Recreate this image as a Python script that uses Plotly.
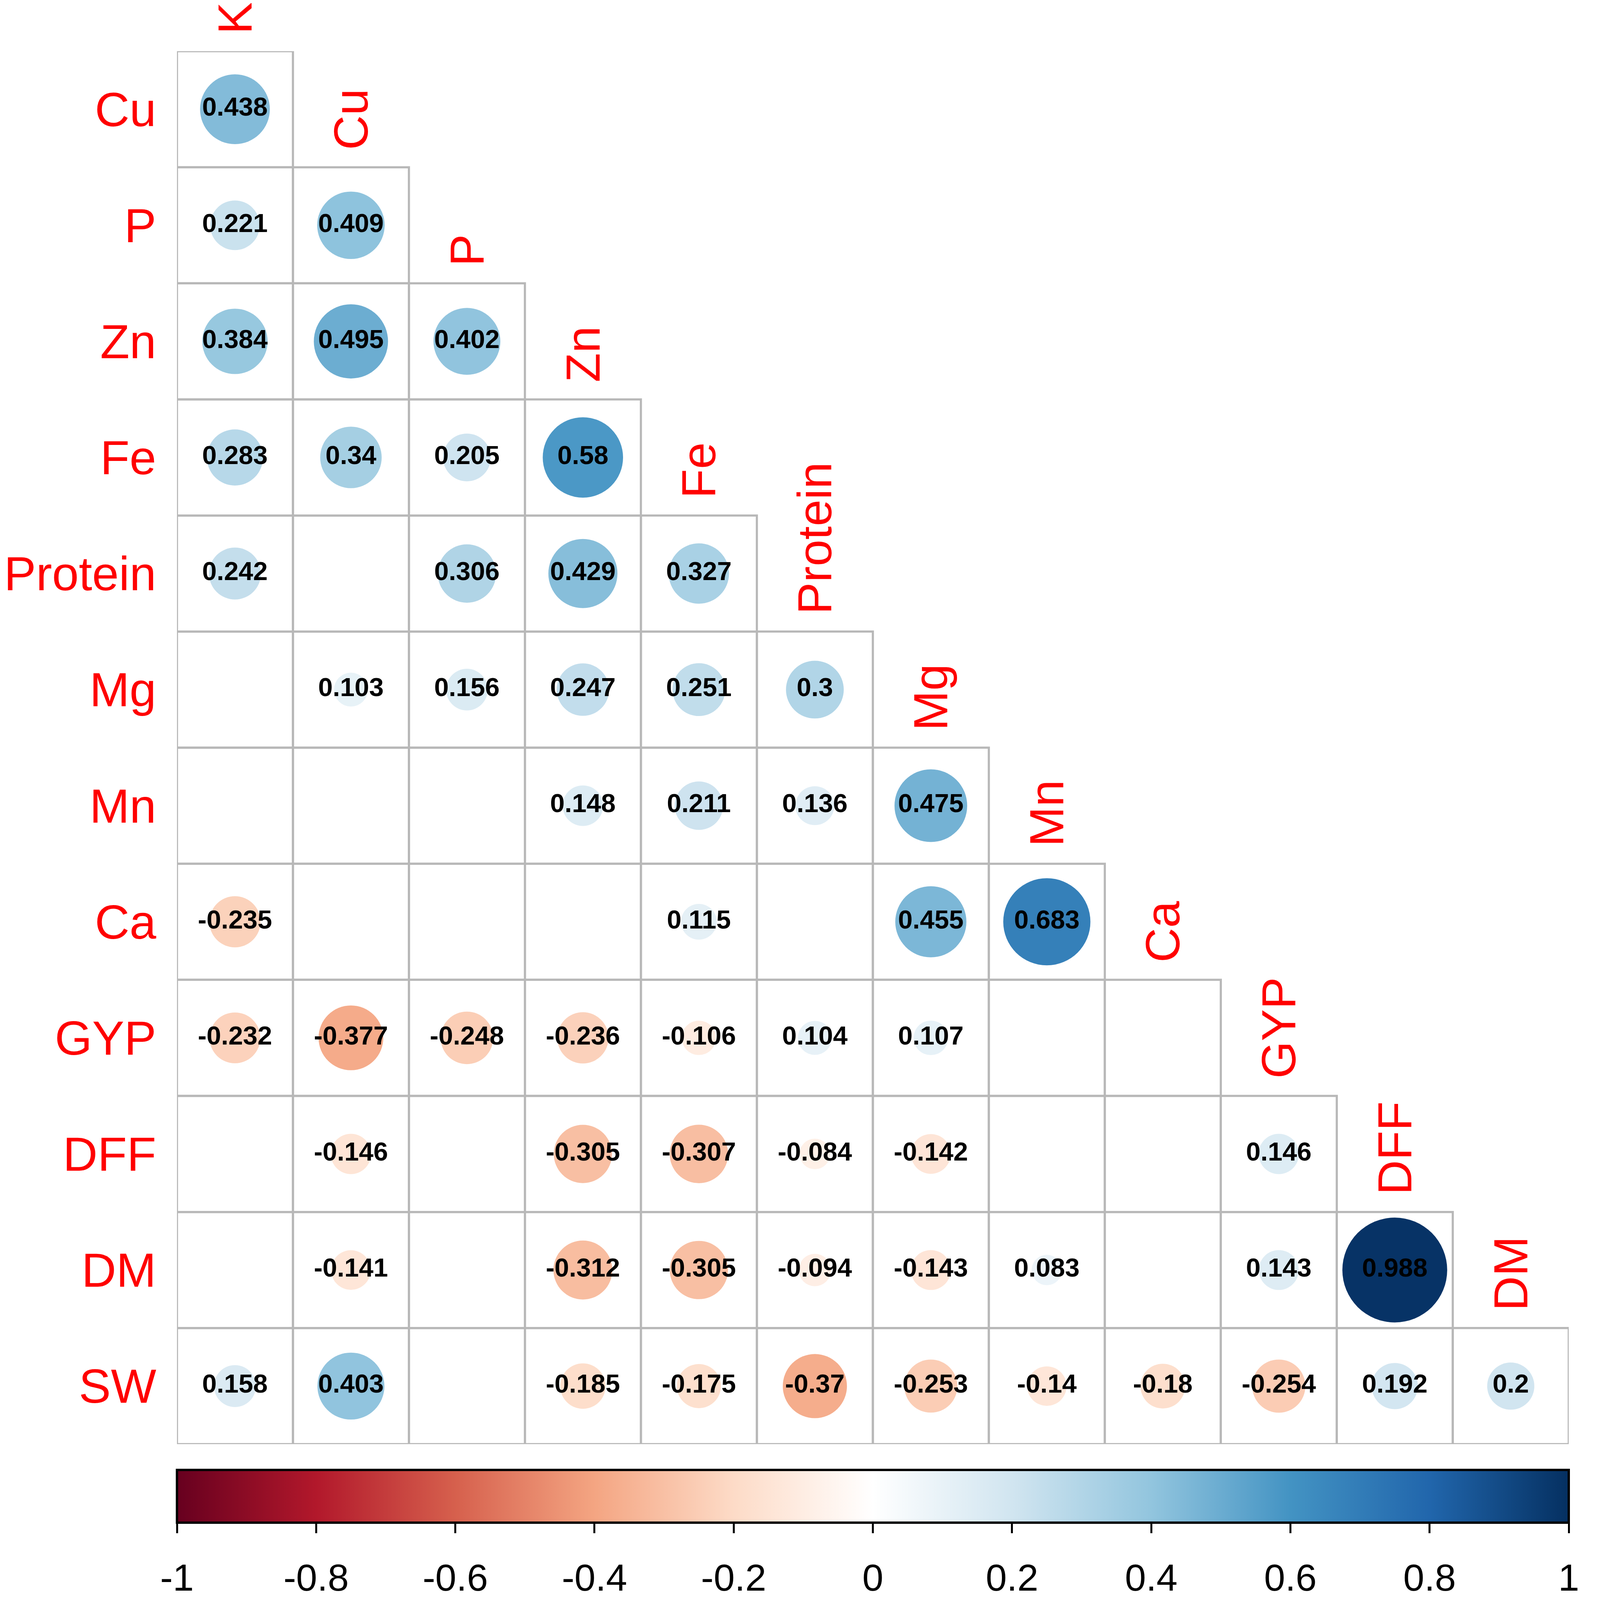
import plotly.graph_objects as go

# variable names (columns across, rows down)
col_names = ["K", "Cu", "P", "Zn", "Fe", "Protein", "Mg", "Mn", "Ca", "GYP", "DFF", "DM"]
row_names = ["Cu", "P", "Zn", "Fe", "Protein", "Mg", "Mn", "Ca", "GYP", "DFF", "DM", "SW"]

# lower triangle correlations, None = blank (not significant)
r_cu = [0.438]
r_p = [0.221, 0.409]
r_zn = [0.384, 0.495, 0.402]
r_fe = [0.283, 0.34, 0.205, 0.58]
r_protein = [0.242, None, 0.306, 0.429, 0.327]
r_mg = [None, 0.103, 0.156, 0.247, 0.251, 0.3]
r_mn = [None, None, None, 0.148, 0.211, 0.136, 0.475]
r_ca = [-0.235, None, None, None, 0.115, None, 0.455, 0.683]
r_gyp = [-0.232, -0.377, -0.248, -0.236, -0.106, 0.104, 0.107, None, None]
r_dff = [None, -0.146, None, -0.305, -0.307, -0.084, -0.142, None, None, 0.146]
r_dm = [None, -0.141, None, -0.312, -0.305, -0.094, -0.143, 0.083, None, 0.143, 0.988]
r_sw = [0.158, 0.403, None, -0.185, -0.175, -0.37, -0.253, -0.14, -0.18, -0.254, 0.192, 0.2]

cbar_ticks = [-1, -0.8, -0.6, -0.4, -0.2, 0, 0.2, 0.4, 0.6, 0.8, 1]
cbar_labels = ["-1", "-0.8", "-0.6", "-0.4", "-0.2", "0", "0.2", "0.4", "0.6", "0.8", "1"]

rows = [r_cu, r_p, r_zn, r_fe, r_protein, r_mg, r_mn, r_ca, r_gyp, r_dff, r_dm, r_sw]

# corrplot RdBu palette
rdbu = ["#67001F", "#B2182B", "#D6604D", "#F4A582", "#FDDBC7", "#FFFFFF",
        "#D1E5F0", "#92C5DE", "#4393C3", "#2166AC", "#053061"]
colorscale = [[k / 10, c] for k, c in enumerate(rdbu)]

xs, ys, vals, labels = [], [], [], []
for i, row in enumerate(rows):
    for j, v in enumerate(row):
        if v is None:
            continue
        xs.append(j)
        ys.append(i)
        vals.append(v)
        labels.append(str(v))

# page is shown a bit zoomed, so sizes are given in css px
W, H = 4036, 4090
ML, MR, MT, MB = 445, 28, 123, 401
PH = H - MT - MB
D = 270  # circle diameter for |r| = 1

fig = go.Figure()

# cell grid
for i, row in enumerate(rows):
    for j in range(len(row)):
        fig.add_shape(type="rect", xref="x", yref="y",
                      x0=j - 0.5, x1=j + 0.5, y0=i - 0.5, y1=i + 0.5,
                      line=dict(color="#B8B8B8", width=5.5), layer="below")

fig.add_trace(go.Scatter(
    x=xs, y=ys, text=labels,
    mode="markers+text",
    textposition="middle center",
    textfont=dict(family="Arial", size=67, color="black", weight="bold"),
    marker=dict(
        size=[abs(v) for v in vals],
        sizemode="area",
        sizeref=2.0 / D ** 2,
        color=vals,
        colorscale=colorscale,
        cmin=-1, cmax=1,
        opacity=1,
        line=dict(width=0),
        showscale=True,
        colorbar=dict(
            orientation="h",
            x=0.5, xanchor="center",
            y=-66 / PH, yanchor="top",
            len=1.0, lenmode="fraction",
            thickness=135,
            xpad=0, ypad=0,
            outlinecolor="black", outlinewidth=6,
            tickvals=cbar_ticks,
            ticks="outside", ticklen=24, tickwidth=5, tickcolor="black",
            showticklabels=False,
            ticklabeloverflow="allow",
        ),
    ),
    showlegend=False,
    hoverinfo="skip",
))

# holder for the colour bar labels (second x axis, nothing drawn)
fig.add_trace(go.Scatter(
    x=cbar_ticks, y=[11.5] * len(cbar_ticks), xaxis="x2",
    mode="markers", marker=dict(size=1, opacity=0),
    showlegend=False, hoverinfo="skip",
))

# diagonal (column) labels
for j, name in enumerate(col_names):
    fig.add_annotation(x=j, y=j - 0.5, xref="x", yref="y",
                       text=name, textangle=-90, showarrow=False,
                       xanchor="center", yanchor="bottom", yshift=42,
                       font=dict(family="Arial", size=123, color="red"))

fig.update_xaxes(range=[-0.5, 11.5], visible=False, showgrid=False,
                 zeroline=False, automargin=False)
fig.update_yaxes(range=[11.5, -0.5], showgrid=False, zeroline=False, showline=False,
                 tickvals=list(range(len(row_names))), ticktext=row_names,
                 ticks="", ticklabelstandoff=52, automargin=False,
                 tickfont=dict(family="Arial", size=123, color="red"))

fig.update_layout(
    width=W, height=H,
    margin=dict(l=ML, r=MR, t=MT, b=MB),
    plot_bgcolor="white", paper_bgcolor="white",
    xaxis2=dict(overlaying="x", anchor="y", side="bottom", range=[-1, 1],
                tickvals=cbar_ticks, ticktext=cbar_labels, ticks="",
                showgrid=False, zeroline=False, showline=False, automargin=False,
                ticklabelstandoff=277, ticklabeloverflow="allow",
                tickfont=dict(family="Arial", size=97, color="black")),
)

fig.write_html("out.html")
